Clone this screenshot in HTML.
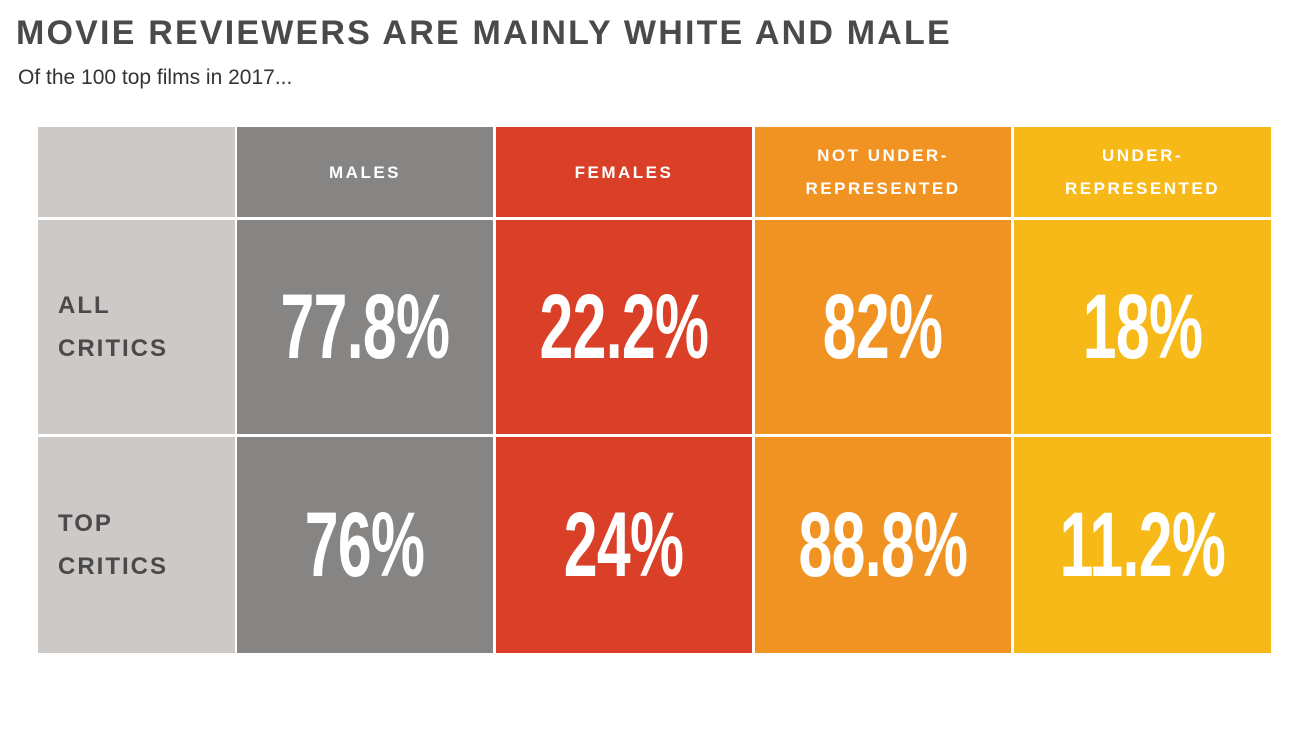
<!DOCTYPE html>
<html><head><meta charset="utf-8"><style>
body{margin:0;width:1296px;height:730px;background:#fff;position:relative;overflow:hidden;font-family:"Liberation Sans",sans-serif}
.t{position:absolute;left:16px;top:14px;font-size:34px;font-weight:bold;color:#4a494b;letter-spacing:2.2px;white-space:nowrap}
.s{position:absolute;left:18px;top:66px;font-size:21px;color:#333}
.c{position:absolute;display:flex;align-items:center;justify-content:center;text-align:center;color:#fff}
.h{font-size:17px;font-weight:bold;letter-spacing:2.5px;line-height:33px}
.rl{justify-content:flex-start;padding-left:20px;box-sizing:border-box;color:#4a494b;font-size:24px;font-weight:bold;letter-spacing:2px;line-height:43px;text-align:left}
.v{font-size:92px;font-weight:bold;letter-spacing:-1px}
.v span{display:inline-block;transform:scaleX(0.66)}
</style></head><body>
<div class="t">MOVIE REVIEWERS ARE MAINLY WHITE AND MALE</div>
<div class="s">Of the 100 top films in 2017...</div>
<div id="grid"></div>
<script>
const columns=["MALES","FEMALES","NOT UNDER-<br>REPRESENTED","UNDER-<br>REPRESENTED"];
const rows=["ALL<br>CRITICS","TOP<br>CRITICS"];
const allCritics=["77.8%","22.2%","82%","18%"];
const topCritics=["76%","24%","88.8%","11.2%"];
const colors=["#878583","#d94027","#f09323","#f6b918"];
const g=document.getElementById('grid');
const xs=[38,237,496,755,1014],ws=[197,256,256,256,257];
const ys=[127,220,437],hs=[90,214,216];
function cell(x,y,w,h,bg,cls,html){const d=document.createElement('div');d.className='c '+cls;d.style.cssText=`left:${x}px;top:${y}px;width:${w}px;height:${h}px;background:${bg}`;d.innerHTML=html;g.appendChild(d);return d;}
let d=cell(xs[0],ys[0],ws[0],hs[0],'#cdc9c6','','');


columns.forEach((c,i)=>{const e=cell(xs[i+1],ys[0],ws[i+1],hs[0],colors[i],'h',c);

});
const data=[allCritics,topCritics];
rows.forEach((r,j)=>{const e=cell(xs[0],ys[j+1],ws[0],hs[j+1],'#cdc9c6','rl',r);


data[j].forEach((v,i)=>{const f=cell(xs[i+1],ys[j+1],ws[i+1],hs[j+1],colors[i],'v','<span>'+v+'</span>');

});});
</script>
</body></html>
